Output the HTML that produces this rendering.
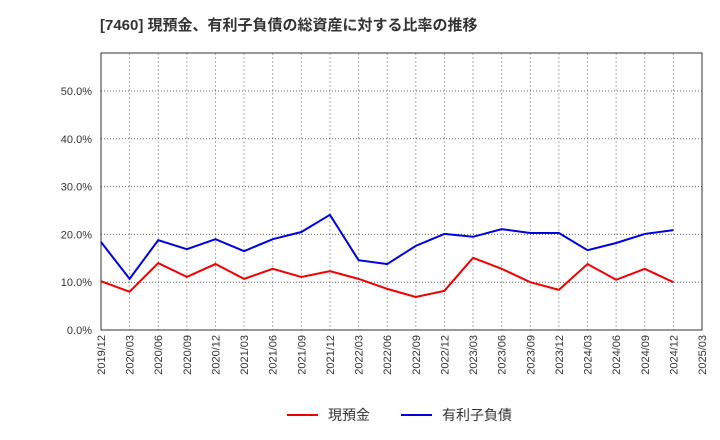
<!DOCTYPE html>
<html><head><meta charset="utf-8"><style>
body{margin:0;background:#fff;}
svg{display:block;font-family:"Liberation Sans","Noto Sans CJK JP",sans-serif;}
</style></head><body>
<svg id="chart" width="720" height="440">
<text x="100" y="30" font-size="15" font-weight="bold" fill="#333">[7460]  現預金、有利子負債の総資産に対する比率の推移</text>
<g id="grid"></g><g id="axes"></g><g id="series"></g>
<g>
<line x1="287" y1="415" x2="318" y2="415" stroke="#e00" stroke-width="2"/>
<text x="328" y="420" font-size="14" fill="#333">現預金</text>
<line x1="401" y1="415" x2="432" y2="415" stroke="#00d" stroke-width="2"/>
<text x="442" y="420" font-size="14" fill="#333">有利子負債</text>
</g>
</svg>
<script>
const categories=["2019/12","2020/03","2020/06","2020/09","2020/12","2021/03","2021/06","2021/09","2021/12","2022/03","2022/06","2022/09","2022/12","2023/03","2023/06","2023/09","2023/12","2024/03","2024/06","2024/09","2024/12","2025/03"];
const cashValues=[10.2,8.0,14.0,11.1,13.8,10.7,12.8,11.1,12.3,10.7,8.6,6.9,8.2,15.1,12.8,10.0,8.4,13.8,10.5,12.8,10.0];
const debtValues=[18.4,10.7,18.8,16.9,19.0,16.5,19.0,20.5,24.1,14.6,13.8,17.6,20.1,19.5,21.1,20.3,20.3,16.7,18.2,20.1,20.9];
const yTicks=[0,10,20,30,40,50];
const NS="http://www.w3.org/2000/svg";
const L=101,R=702,T=53,B=330;
const x=i=>L+i*(R-L)/(categories.length-1);
const y=v=>B-v*(B-91)/50;
const grid=document.getElementById('grid'),axes=document.getElementById('axes'),ser=document.getElementById('series');
function mk(tag,attrs,parent){const e=document.createElementNS(NS,tag);for(const k in attrs)e.setAttribute(k,attrs[k]);parent.appendChild(e);return e;}
categories.forEach((c,i)=>{
 const g=mk('line',{x1:x(i),x2:x(i),y1:T,y2:B,stroke:'#aaa','stroke-dasharray':'2,2','stroke-width':1},grid);
 
 
 const t=mk('text',{transform:`translate(${x(i)+4},${B+5}) rotate(-90)`,'text-anchor':'end','font-size':11,fill:'#333'},axes);
 t.textContent=c;
 
 
});
yTicks.forEach(v=>{
 const g=mk('line',{x1:L,x2:R,y1:y(v),y2:y(v),stroke:'#666','stroke-dasharray':'1,2','stroke-width':1},grid);
 
 
 const t=mk('text',{x:L-9,y:y(v)+4,'text-anchor':'end','font-size':11,fill:'#333'},axes);
 t.textContent=v.toFixed(1)+'%';
 
 
});
const fr=mk('rect',{x:L,y:T,width:R-L,height:B-T,fill:'none',stroke:'#333','stroke-width':1},axes);


function line(vals,color,name){
 const p=mk('polyline',{points:vals.map((v,i)=>x(i)+','+y(v)).join(' '),fill:'none',stroke:color,'stroke-width':2},ser);
 
 
}
line(cashValues,'#e00','cash-line');
line(debtValues,'#00d','debt-line');
</script>
</body></html>
